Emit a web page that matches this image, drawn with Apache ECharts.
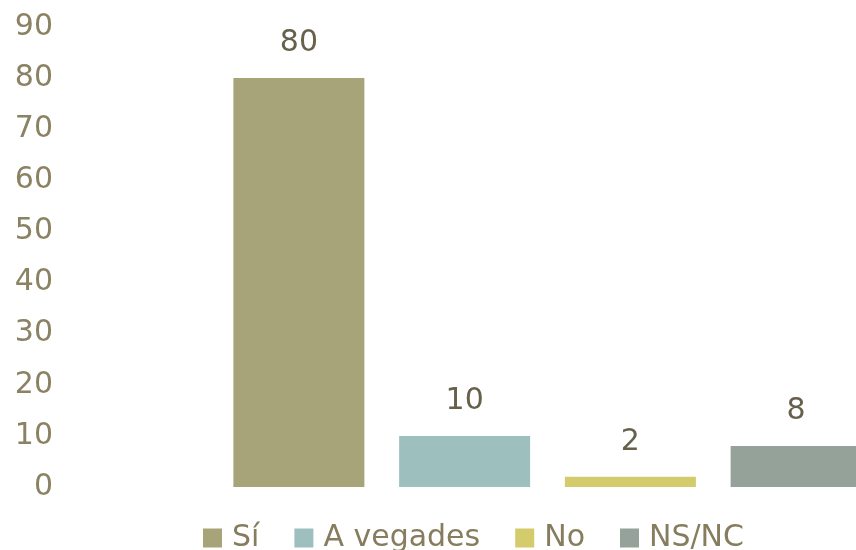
<!DOCTYPE html>
<html>
<head>
<meta charset="utf-8">
<script src="https://cdn.jsdelivr.net/npm/echarts@6/dist/echarts.min.js"></script>
<style>
  html, body { margin: 0; padding: 0; background: #ffffff; }
  #chart { width: 856px; height: 550px; }
</style>
</head>
<body>
<div id="chart"></div>
<script>
const categories = ["Sí", "A vegades", "No", "NS/NC"];
const seriesValues = [80, 10, 2, 8];
const seriesColors = ["#a8a47a", "#9dbfbe", "#d3cb6c", "#94a29a"];
const yTicks = [0, 10, 20, 30, 40, 50, 60, 70, 80, 90];

const FONT = "DejaVu Sans";

const chart = echarts.init(document.getElementById("chart"));

// one series per answer so the legend gets four entries; each sits in its own slot
const series = categories.map((name, i) => ({
  name: name,
  type: "bar",
  stack: "total",
  barWidth: 131,
  data: categories.map((_, j) => (j === i ? seriesValues[i] : "-")),
  itemStyle: { color: seriesColors[i] },
  label: {
    show: true,
    position: "top",
    distance: 20,
    color: "#67614c",
    fontFamily: FONT,
    fontSize: 30,
  },
}));

chart.setOption({
  animation: false,
  backgroundColor: "#ffffff",
  // the last bar runs off the right edge in the original
  grid: { left: 216, right: -23, top: 27, bottom: 63, outerBoundsMode: "none", containLabel: false },
  legend: {
    left: 203,
    top: 523,
    padding: 0,
    itemWidth: 19,
    itemHeight: 19,
    itemGap: 35,
    icon: "rect",
    textStyle: {
      color: "#857d5d",
      fontFamily: FONT,
      fontSize: 30,
      padding: [0, 0, 0, 5],
    },
    data: categories,
  },
  xAxis: {
    type: "category",
    data: categories,
    axisLine: { show: false },
    axisTick: { show: false },
    axisLabel: { show: false },
  },
  yAxis: {
    type: "value",
    min: yTicks[0],
    max: yTicks[yTicks.length - 1],
    interval: 10,
    splitLine: { show: false },
    axisLine: { show: false },
    axisTick: { show: false },
    axisLabel: {
      margin: 163,
      color: "#8a8262",
      fontFamily: FONT,
      fontSize: 30,
      padding: [0, 0, 8, 0],
    },
  },
  series: series,
});
</script>
</body>
</html>
